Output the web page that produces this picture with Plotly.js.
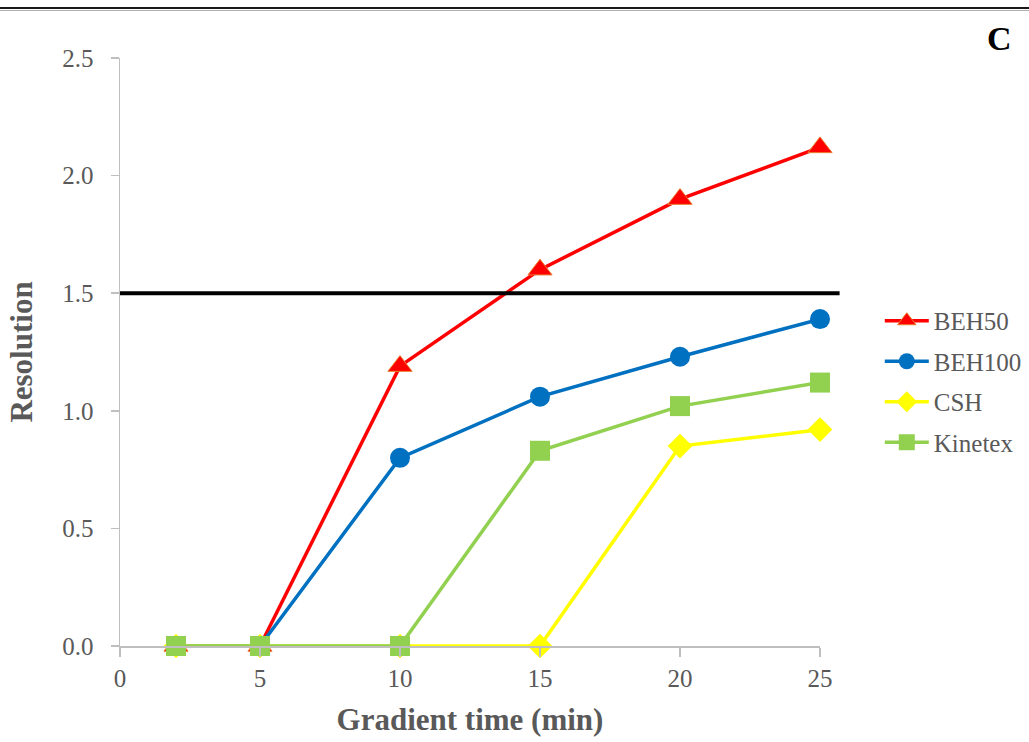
<!DOCTYPE html>
<html>
<head>
<meta charset="utf-8">
<script src="https://cdn.plot.ly/plotly-3.0.1.min.js"></script>
<style>
html, body { margin: 0; padding: 0; background: #ffffff; }
#chart { width: 1029px; height: 742px; }
</style>
</head>
<body>
<div id="chart"></div>
<script>
// Data
const gradientTime = [2, 5, 10, 15, 20, 25];
const beh50   = [0, 0, 1.19, 1.60, 1.90, 2.12];
const beh100  = [0, 0, 0.80, 1.06, 1.23, 1.39];
const csh     = [0, 0, 0, 0, 0.85, 0.92];
const kinetex = [0, 0, 0, 0.83, 1.02, 1.12];
const seriesNames = ["BEH50", "BEH100", "CSH", "Kinetex"];
const thresholdY = 1.5;          // resolution threshold line
const thresholdXEnd = 25.7;      // line runs a bit past the last tick
const xTicks = [0, 5, 10, 15, 20, 25];
const yTicks = [0, 0.5, 1.0, 1.5, 2.0, 2.5];
const xRange = [0, 25];
const yRange = [0, 2.5];

const serif = "Liberation Serif, Times New Roman, serif";
const grey = "#595959";

function series(name, y, color, symbol, size, lineColor) {
  return {
    type: "scatter", mode: "lines+markers", name: name, x: gradientTime, y: y,
    legendgroup: name, cliponaxis: false,
    line: { color: color, width: 3.5 },
    marker: { color: color, symbol: symbol, size: size,
              line: { color: lineColor || color, width: lineColor ? 1 : 0 } }
  };
}

const traces = [
  series(seriesNames[0], beh50, "#FF0000", "triangle-up", 21, "#ED7D31"),
  series(seriesNames[1], beh100, "#0070C0", "circle", 20),
  series(seriesNames[2], csh, "#FFFF00", "diamond", 19),
  series(seriesNames[3], kinetex, "#92D050", "square", 20)
];

const xFrac = v => (v - xRange[0]) / (xRange[1] - xRange[0]);

const layout = {
  width: 1029, height: 742,
  margin: { l: 120, r: 209, t: 58, b: 96 },
  paper_bgcolor: "#ffffff", plot_bgcolor: "#ffffff",
  font: { family: serif, color: grey, size: 25 },
  showlegend: true,
  legend: {
    xref: "container", yref: "container",
    x: 0.855, xanchor: "left", y: 0.5984, yanchor: "top",
    font: { family: serif, size: 25, color: grey },
    tracegroupgap: 5, itemwidth: 44, bgcolor: "rgba(0,0,0,0)"
  },
  xaxis: {
    range: xRange, tickvals: xTicks, ticktext: xTicks.map(String),
    showline: true, linecolor: "#BFBFBF", linewidth: 1.5,
    ticks: "outside", ticklen: 9, tickcolor: "#BFBFBF", tickwidth: 1.5,
    showgrid: false, zeroline: false, ticklabelstandoff: 0,
    tickfont: { family: serif, size: 25, color: grey },
    title: { text: "<b>Gradient time (min)</b>", standoff: 18,
             font: { family: serif, size: 31, color: grey } }
  },
  yaxis: {
    range: yRange, tickvals: yTicks, ticktext: yTicks.map(v => v.toFixed(1)),
    showline: true, linecolor: "#BFBFBF", linewidth: 1.5,
    ticks: "outside", ticklen: 8, tickcolor: "#BFBFBF", tickwidth: 1.5,
    showgrid: false, zeroline: false, ticklabelstandoff: 12,
    tickfont: { family: serif, size: 25, color: grey },
    title: { text: "<b>Resolution</b>", standoff: 20,
             font: { family: serif, size: 31, color: grey } }
  },
  shapes: [
    { type: "line", xref: "paper", yref: "y", x0: xFrac(xRange[0]), x1: xFrac(thresholdXEnd),
      y0: thresholdY, y1: thresholdY, line: { color: "#000000", width: 4 } },
    { type: "line", xref: "paper", yref: "paper", x0: -0.1714, x1: 1.2986,
      y0: 1.0850, y1: 1.0850, line: { color: "#1a1a1a", width: 2 } },
    { type: "line", xref: "paper", yref: "paper", x0: -0.1714, x1: 1.2986,
      y0: 1.0808, y1: 1.0808, line: { color: "#b0b0b0", width: 1 } }
  ],
  annotations: [
    { text: "<b>C</b>", xref: "paper", yref: "paper", x: 1.257, y: 1.034,
      xanchor: "center", yanchor: "middle", showarrow: false,
      font: { family: serif, size: 34, color: "#000000" } }
  ]
};

Plotly.newPlot("chart", traces, layout, { staticPlot: true, displayModeBar: false });
</script>
</body>
</html>
